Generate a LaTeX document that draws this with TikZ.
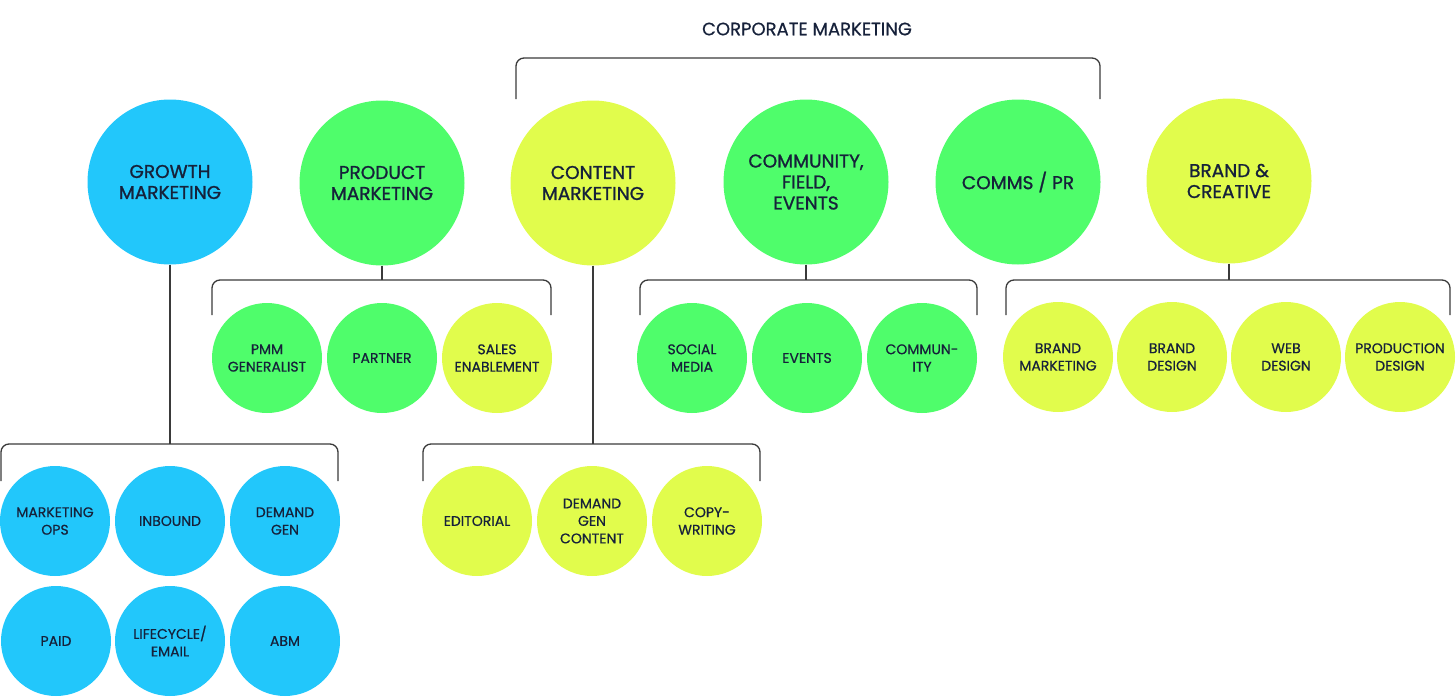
\documentclass[tikz,border=0pt]{standalone}
\usepackage{fontspec}
\setmainfont{Poppins}[FakeBold=0.6]
\newfontfamily\medfont{Poppins}[FakeBold=1.1]
\definecolor{cblue}{HTML}{22C7FB}
\definecolor{cgreen}{HTML}{4FFD6B}
\definecolor{cyellow}{HTML}{E1FC4C}
\definecolor{ctext}{HTML}{16213A}
\definecolor{cline}{HTML}{3A3A3A}
\begin{document}
\begin{tikzpicture}[x=1pt,y=-1pt,
  big/.style={circle, minimum size=165pt, inner sep=0pt, align=center, text=ctext, font=\medfont\fontsize{18.5}{21}\selectfont},
  small/.style={circle, minimum size=110pt, inner sep=0pt, align=center, text=ctext, font=\fontsize{14}{17.5}\selectfont},
  bl/.style={fill=cblue}, gr/.style={fill=cgreen}, ye/.style={fill=cyellow},
  conn/.style={draw=cline, line width=1.3pt},
  brk/.style={conn, rounded corners=8pt}]
\useasboundingbox (0,0) rectangle (1456,696);

% title
\node[text=ctext, font=\fontsize{18}{21}\selectfont] (title) at (807,29) {CORPORATE MARKETING};
\coordinate (corpL) at (516,99);
\coordinate (corpR) at (1100,99);
\draw[brk] (corpL) -- (516,58) -- (1100,58) -- (corpR);

% top level
\node[big,bl] (gm)  at (170,182)  {GROWTH\\MARKETING};
\node[big,gr] (pm)  at (382,183)  {PRODUCT\\MARKETING};
\node[big,ye] (cm)  at (593,183)  {CONTENT\\MARKETING};
\node[big,gr] (cfe) at (806,182)  {COMMUNITY,\\FIELD,\\EVENTS};
\node[big,gr] (cpr) at (1018,182) {COMMS / PR};
\node[big,ye] (bc)  at (1229,181) {BRAND \&\\CREATIVE};

% product marketing children
\node[small,gr] (pmm)  at (267,358) {PMM\\GENERALIST};
\node[small,gr] (part) at (382,358) {PARTNER};
\node[small,ye] (sales) at (497,358) {SALES\\ENABLEMENT};
\coordinate (pmb) at (382,280);
\draw[conn] (pm.south) -- (pmb);
\draw[brk] (212,315) -- (212,280) -- (551,280) -- (551,315);

% community children
\node[small,gr] (soc) at (692,358) {SOCIAL\\MEDIA};
\node[small,gr] (ev)  at (807,358) {EVENTS};
\node[small,gr] (com) at (922,358) {COMMUN-\\ITY};
\coordinate (cfeb) at (806,280);
\draw[conn] (cfe.south) -- (cfeb);
\draw[brk] (640,315) -- (640,280) -- (977,280) -- (977,315);

% brand children
\node[small,ye] (bm) at (1058,357) {BRAND\\MARKETING};
\node[small,ye] (bd) at (1172,357) {BRAND\\DESIGN};
\node[small,ye] (wd) at (1286,357) {WEB\\DESIGN};
\node[small,ye] (pd) at (1400,357) {PRODUCTION\\DESIGN};
\coordinate (bcb) at (1229,280);
\draw[conn] (bc.south) -- (bcb);
\draw[brk] (1006,315) -- (1006,280) -- (1450,280) -- (1450,315);

% growth children
\node[small,bl] (mops) at (55,521)  {MARKETING\\OPS};
\node[small,bl] (inb)  at (170,521) {INBOUND};
\node[small,bl] (dg)   at (285,521) {DEMAND\\GEN};
\node[small,bl] (paid) at (56,641)  {PAID};
\node[small,bl] (lc)   at (170,641) {LIFECYCLE/\\EMAIL};
\node[small,bl] (abm)  at (285,641) {ABM};
\coordinate (gmb) at (170,444);
\draw[conn] (gm.south) -- (gmb);
\draw[brk] (1,481) -- (1,444) -- (338,444) -- (338,481);

% content children
\node[small,ye] (edit) at (477,521) {EDITORIAL};
\node[small,ye] (dgc)  at (592,521) {DEMAND\\GEN\\CONTENT};
\node[small,ye] (copy) at (707,521) {COPY-\\WRITING};
\coordinate (cmb) at (593,444);
\draw[conn] (cm.south) -- (cmb);
\draw[brk] (423,481) -- (423,444) -- (760,444) -- (760,481);
\end{tikzpicture}
\end{document}
